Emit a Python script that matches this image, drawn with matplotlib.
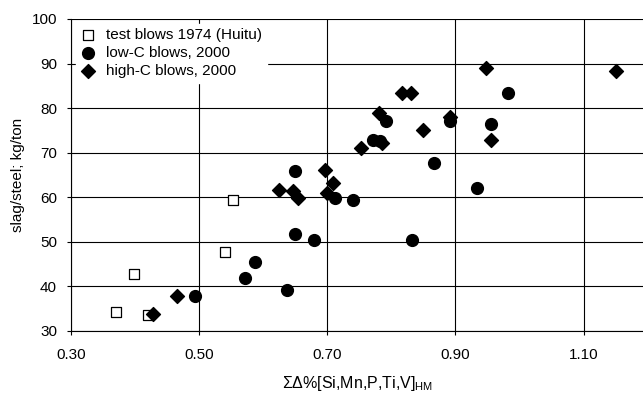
import matplotlib.pyplot as plt

plt.rcParams['font.family'] = ['Liberation Sans', 'DejaVu Sans']
plt.rcParams['mathtext.fontset'] = 'custom'
plt.rcParams['mathtext.rm'] = 'Liberation Sans'

# test blows 1974 (Huitu)
test_x = [0.371, 0.399, 0.420, 0.540, 0.553]
test_y = [34.3, 42.8, 33.7, 47.8, 59.5]

# low-C blows, 2000
low_x = [0.494, 0.572, 0.587, 0.637, 0.649, 0.649, 0.679, 0.712, 0.740,
         0.771, 0.782, 0.792, 0.832, 0.867, 0.892, 0.933, 0.956, 0.982]
low_y = [37.8, 41.9, 45.5, 39.2, 65.9, 51.8, 50.5, 59.9, 59.4,
         72.9, 72.7, 77.2, 50.5, 67.7, 77.2, 62.1, 76.4, 83.5]

# high-C blows, 2000
high_x = [0.428, 0.465, 0.625, 0.647, 0.655, 0.696, 0.700, 0.709, 0.753,
          0.781, 0.786, 0.817, 0.830, 0.849, 0.892, 0.947, 0.956, 1.151]
high_y = [33.8, 37.8, 61.6, 61.4, 59.9, 66.2, 60.9, 63.3, 71.1,
          78.8, 72.2, 83.3, 83.3, 75.2, 78.0, 89.0, 72.9, 88.4]

xticks = [0.30, 0.50, 0.70, 0.90, 1.10]
yticks = [30, 40, 50, 60, 70, 80, 90, 100]

fig = plt.figure(figsize=(6.43, 3.94), dpi=100)
ax = fig.add_axes([71 / 643, 1 - 331 / 394, 1 - 71 / 643 + 0.001, (331 - 19) / 394])

ax.scatter(test_x, test_y, marker='s', s=44, facecolors='white', edgecolors='black',
           linewidths=0.9, label='test blows 1974 (Huitu)', zorder=3)
ax.scatter(low_x, low_y, marker='o', s=72, color='black', label='low-C blows, 2000', zorder=3)
ax.scatter(high_x, high_y, marker='D', s=50, color='black', label='high-C blows, 2000', zorder=3)

ax.set_xlim(0.30, 0.30 + (643 - 71) / 640)
ax.set_ylim(30, 100)
ax.set_xticks(xticks)
ax.set_xticklabels(['%.2f' % v for v in xticks])
ax.set_yticks(yticks)
ax.tick_params(labelsize=11, length=3, width=0.8, color='black')
ax.tick_params(axis='y', pad=7)
ax.tick_params(axis='x', pad=9)
ax.grid(True, color='black', linewidth=0.8)
ax.set_axisbelow(True)
for side in ['top', 'right']:
    ax.spines[side].set_visible(False)
for side in ['left', 'bottom']:
    ax.spines[side].set_linewidth(0.8)

ax.set_ylabel('slag/steel; kg/ton', fontsize=11, labelpad=5)
ax.set_xlabel(r'$\Sigma\Delta$%[Si,Mn,P,Ti,V]$_{\mathrm{HM}}$', fontsize=11.5, labelpad=9)

leg = ax.legend(loc='upper left', bbox_to_anchor=(0.0, 1.0), fontsize=11,
                frameon=True, fancybox=False, framealpha=1, edgecolor='white',
                handletextpad=0.7, labelspacing=0.27, borderaxespad=0.3,
                handlelength=1.0, borderpad=0.3)

fig.savefig('out.png', dpi=100)
